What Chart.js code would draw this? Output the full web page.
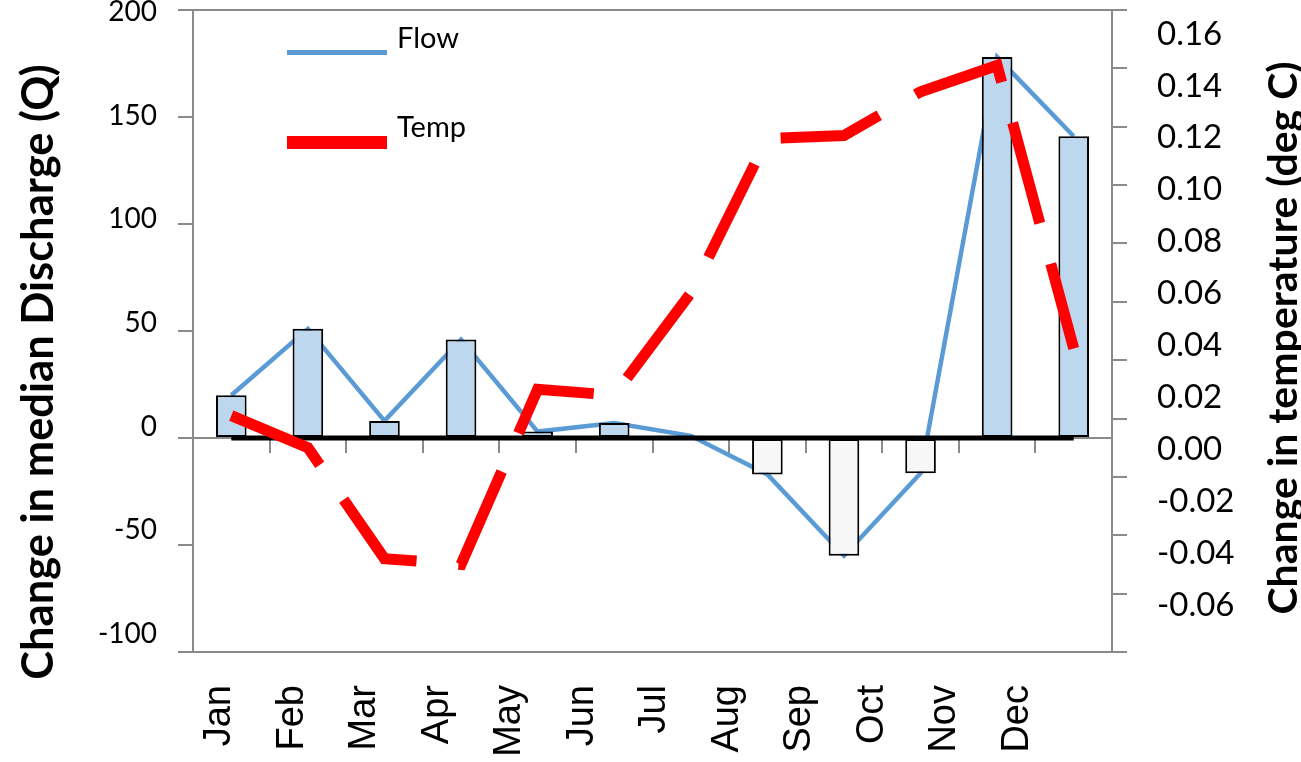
<!DOCTYPE html>
<html>
<head>
<meta charset="utf-8">
<script src="https://cdn.jsdelivr.net/npm/chart.js@4.4.1/dist/chart.umd.min.js"></script>
<style>
  html, body { margin: 0; padding: 0; background: #ffffff; }
  #wrap { width: 1301px; height: 762px; position: relative; }
</style>
</head>
<body>
<div id="wrap"><canvas id="chart"></canvas></div>
<script>
// ---- data ----
const months = ['Jan', 'Feb', 'Mar', 'Apr', 'May', 'Jun', 'Jul', 'Aug', 'Sep', 'Oct', 'Nov', 'Dec'];
const flowValues = [20, 51, 8, 46, 3, 7, 1, -17, -55, -16.5, 178, 141];
const tempValues = [0.021, 0.010, -0.028, -0.030, 0.030, 0.028, 0.063, 0.116, 0.117, 0.132, 0.141, 0.044];
const zeroLine = [0, 0, 0, 0, 0, 0, 0, 0, 0, 0, 0, 0];
const flowTicks = [-100, -50, 0, 50, 100, 150, 200];
const tempTicks = [-0.06, -0.04, -0.02, 0.00, 0.02, 0.04, 0.06, 0.08, 0.10, 0.12, 0.14, 0.16];
const seriesNames = ['Flow', 'Temp'];
const axisTitles = ['Change in median Discharge (Q)', 'Change in temperature (deg C)'];

// ---- styles ----
const GRAY = '#8a8a8a';
const FLOW_COLOR = '#5B9BD5';
const TEMP_COLOR = '#FF0000';
const BAR_POS = '#BDD7EE';
const BAR_NEG = '#F7F7F7';

const legendPlugin = {
  id: 'insideLegend',
  afterDraw(chart) {
    const ctx = chart.ctx;
    const a = chart.chartArea;
    const items = [
      { name: seriesNames[0], color: FLOW_COLOR, width: 5, lineY: a.top + 42.5, textY: a.top + 38 },
      { name: seriesNames[1], color: TEMP_COLOR, width: 13, lineY: a.top + 132.5, textY: a.top + 127 }
    ];
    ctx.save();
    items.forEach(it => {
      ctx.beginPath();
      ctx.lineCap = 'butt';
      ctx.strokeStyle = it.color;
      ctx.lineWidth = it.width;
      ctx.moveTo(a.left + 94, it.lineY);
      ctx.lineTo(a.left + 194, it.lineY);
      ctx.stroke();
      ctx.fillStyle = '#000';
      ctx.font = '29px Lato';
      ctx.textAlign = 'left';
      ctx.textBaseline = 'alphabetic';
      ctx.fillText(it.name, a.left + 204, it.textY);
    });
    ctx.restore();
  }
};

const titlePlugin = {
  id: 'sideTitles',
  afterDraw(chart) {
    const ctx = chart.ctx;
    ctx.save();
    ctx.fillStyle = '#000';
    ctx.font = 'bold 43.5px Lato';
    ctx.textAlign = 'center';
    ctx.textBaseline = 'alphabetic';
    ctx.translate(53, 372);
    ctx.rotate(-Math.PI / 2);
    ctx.fillText(axisTitles[0], 0, 0);
    ctx.restore();
    ctx.save();
    ctx.fillStyle = '#000';
    ctx.font = 'bold 41px Lato';
    ctx.textAlign = 'center';
    ctx.textBaseline = 'alphabetic';
    ctx.translate(1297, 338);
    ctx.rotate(-Math.PI / 2);
    ctx.fillText(axisTitles[1], 0, 0);
    ctx.restore();
  }
};

const noPad = (s) => { s.paddingLeft = 0; s.paddingRight = 0; s.paddingTop = 0; s.paddingBottom = 0; };

new Chart(document.getElementById('chart'), {
  data: {
    labels: months,
    datasets: [
      {
        type: 'line', label: seriesNames[1], data: tempValues, yAxisID: 'y2', xAxisID: 'x',
        borderColor: TEMP_COLOR, borderWidth: 11, borderDash: [104, 42], borderCapStyle: 'butt',
        borderJoinStyle: 'miter', pointRadius: 0, tension: 0, fill: false, order: 0
      },
      {
        type: 'line', label: 'zero', data: zeroLine, yAxisID: 'y', xAxisID: 'x',
        borderColor: '#000000', borderWidth: 5, pointRadius: 0, tension: 0, fill: false, order: 1
      },
      {
        type: 'bar', label: seriesNames[0] + ' bars', data: flowValues, yAxisID: 'y', xAxisID: 'x',
        backgroundColor: (c) => (c.raw < 0 ? BAR_NEG : BAR_POS),
        borderColor: '#000000', borderWidth: 2, borderSkipped: false,
        barPercentage: 0.4, categoryPercentage: 1.0, order: 2
      },
      {
        type: 'line', label: seriesNames[0], data: flowValues, yAxisID: 'y', xAxisID: 'x',
        borderColor: FLOW_COLOR, borderWidth: 4.5, pointRadius: 0, tension: 0, fill: false, order: 3
      }
    ]
  },
  options: {
    responsive: true,
    maintainAspectRatio: false,
    animation: false,
    devicePixelRatio: 1,
    layout: { padding: { top: 10, left: 0, right: 0, bottom: 0 } },
    plugins: { legend: { display: false }, tooltip: { enabled: false } },
    scales: {
      x: {
        type: 'category', position: { y: 0 }, offset: true,
        grid: { display: true, drawOnChartArea: false, drawTicks: true, tickLength: 14, color: GRAY, lineWidth: 2, offset: true },
        border: { display: true, color: GRAY, width: 2 },
        ticks: { display: false },
        afterFit: noPad
      },
      xMonth: {
        type: 'linear', position: 'bottom', bounds: 'data', min: -0.368, max: 12.303,
        grid: { display: false, drawTicks: false },
        border: { display: true, color: GRAY, width: 2 },
        ticks: {
          autoSkip: false, minRotation: 90, maxRotation: 90, padding: 33, color: '#000',
          font: { family: 'Liberation Sans', size: 38 },
          callback: (v, i) => months[i]
        },
        afterBuildTicks: (s) => { s.ticks = months.map((m, i) => ({ value: i })); },
        afterFit: (s) => { s.height = 110; noPad(s); }
      },
      xTop: {
        type: 'linear', position: 'top', min: 0, max: 1,
        grid: { display: false, drawTicks: false },
        border: { display: true, color: GRAY, width: 2 },
        ticks: { display: false },
        afterFit: (s) => { s.height = 0; noPad(s); }
      },
      y: {
        type: 'linear', position: 'left', weight: 0, min: -100, max: 200,
        ticks: { display: false, stepSize: 50 },
        grid: { drawOnChartArea: false, tickLength: 15, color: GRAY, lineWidth: 2 },
        border: { display: true, color: GRAY, width: 2 },
        afterFit: (s) => { s.width = 15; noPad(s); }
      },
      yFlowLabels: {
        type: 'linear', position: 'left', weight: 1, bounds: 'data', min: -108.68, max: 200.96,
        grid: { display: false, drawTicks: false },
        border: { display: false },
        ticks: {
          padding: 21, color: '#000', font: { family: 'Lato', size: 28 },
          callback: (v, i) => String(flowTicks[i])
        },
        afterBuildTicks: (s) => { s.ticks = flowTicks.map(v => ({ value: v })); },
        afterFit: (s) => { s.width = 178; noPad(s); }
      },
      y2: {
        type: 'linear', position: 'right', weight: 0, min: -0.06, max: 0.16,
        ticks: { display: false, stepSize: 0.02 },
        grid: { drawOnChartArea: false, tickLength: 15, color: GRAY, lineWidth: 2 },
        border: { display: true, color: GRAY, width: 2 },
        afterFit: (s) => { s.width = 15; noPad(s); }
      },
      yTempLabels: {
        type: 'linear', position: 'right', weight: 1, bounds: 'data', min: -0.07811, max: 0.16925,
        grid: { display: false, drawTicks: false },
        border: { display: false },
        ticks: {
          padding: 30, color: '#000', font: { family: 'Lato', size: 33 },
          callback: (v, i) => tempTicks[i].toFixed(2)
        },
        afterBuildTicks: (s) => { s.ticks = tempTicks.map(v => ({ value: v })); },
        afterFit: (s) => { s.width = 174; noPad(s); }
      }
    }
  },
  plugins: [legendPlugin, titlePlugin]
});
</script>
</body>
</html>
